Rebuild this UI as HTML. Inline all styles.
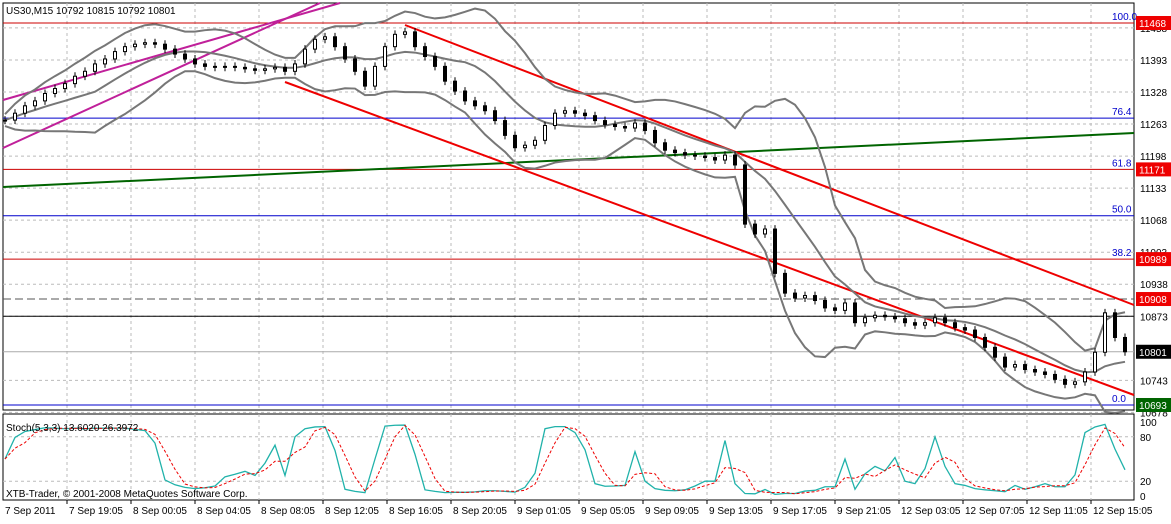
<!DOCTYPE html>
<html><head><meta charset="utf-8"><style>
body{margin:0;background:#fff;width:1171px;height:519px;overflow:hidden;font-family:"Liberation Sans",sans-serif}
svg text{font-family:"Liberation Sans",sans-serif;font-size:10px}
</style></head><body>
<svg id="c" width="1171" height="519" xmlns="http://www.w3.org/2000/svg"></svg>
<script>
const closes=[11271,11285,11300,11310,11325,11335,11345,11360,11370,11385,11395,11410,11420,11425,11428,11425,11415,11405,11395,11385,11380,11378,11380,11378,11375,11372,11375,11378,11370,11385,11415,11435,11440,11420,11395,11370,11340,11380,11420,11445,11450,11420,11400,11380,11350,11330,11310,11300,11290,11270,11240,11215,11220,11230,11260,11285,11290,11285,11280,11270,11262,11258,11255,11265,11250,11225,11210,11205,11200,11198,11195,11190,11200,11180,11060,11040,11050,10960,10920,10910,10915,10905,10890,10885,10900,10860,10870,10875,10872,10868,10860,10855,10860,10870,10860,10850,10845,10830,10810,10790,10770,10775,10765,10760,10755,10745,10735,10740,10760,10800,10880,10830,10801];
const priceTicks=[11458,11393,11328,11263,11198,11133,11068,11003,10938,10873,10743,10678];
const timeLabels=["7 Sep 2011","7 Sep 19:05","8 Sep 00:05","8 Sep 04:05","8 Sep 08:05","8 Sep 12:05","8 Sep 16:05","8 Sep 20:05","9 Sep 01:05","9 Sep 05:05","9 Sep 09:05","9 Sep 13:05","9 Sep 17:05","9 Sep 21:05","12 Sep 03:05","12 Sep 07:05","12 Sep 11:05","12 Sep 15:05"];
const fibLevels=[[11468,"100.0","#c00"],[11275,"76.4","#00c"],[11171,"61.8","#c00"],[11077,"50.0","#00c"],[10989,"38.2","#c00"],[10693,"0.0","#00c"]];
const S=document.getElementById('c'),NS="http://www.w3.org/2000/svg";
function el(t,a,p){const e=document.createElementNS(NS,t);for(const k in a)e.setAttribute(k,a[k]);(p||S).appendChild(e);return e;}
const L=3,R=1134,T=3,B=410,ST=414,SB=500;
const y=p=>23+(11468-p)*0.4929;
const x=i=>5+i*10;
const sy=v=>ST+8+(100-v)*(SB-ST-12)/100;
let f=el('rect',{x:L,y:T,width:R-L,height:B-T,fill:'none',stroke:'#000'});

f=el('rect',{x:L,y:ST,width:R-L,height:SB-ST,fill:'none',stroke:'#000'});

timeLabels.forEach((t,i)=>{const gx=3+64*i;
 if(i>0){el('line',{x1:gx,y1:T,x2:gx,y2:B,stroke:'#bbb','stroke-dasharray':'3,3'});el('line',{x1:gx,y1:ST,x2:gx,y2:SB,stroke:'#bbb','stroke-dasharray':'3,3'});el('line',{x1:gx,y1:SB,x2:gx,y2:SB+4,stroke:'#000'});}
 const tx=el('text',{x:gx+2,y:514});tx.textContent=t;
 });
priceTicks.forEach(p=>{el('line',{x1:L,y1:y(p),x2:R,y2:y(p),stroke:'#bbb','stroke-dasharray':'3,3'});
 const tx=el('text',{x:1140,y:y(p)+4});tx.textContent=p;
 });
[80,20].forEach(v=>el('line',{x1:L,y1:sy(v),x2:R,y2:sy(v),stroke:'#bbb','stroke-dasharray':'3,3'}));
[[100,"100"],[80,"80"],[20,"20"],[0,"0"]].forEach(a=>{const tx=el('text',{x:1140,y:sy(a[0])+4});tx.textContent=a[1];
 });
fibLevels.forEach(a=>{el('line',{x1:L,y1:y(a[0]),x2:R,y2:y(a[0]),stroke:a[2]});
 const tx=el('text',{x:1112,y:y(a[0])-3,fill:'#00c'});tx.textContent=a[1];
 });
el('line',{x1:L,y1:y(10908),x2:R,y2:y(10908),stroke:'#555','stroke-dasharray':'8,4'});
el('line',{x1:L,y1:y(10873),x2:R,y2:y(10873),stroke:'#000'});
el('line',{x1:L,y1:y(10801),x2:R,y2:y(10801),stroke:'#aaa'});
[[3,100,340,3,'#c0209a'],[3,148,320,3,'#c0209a'],[3,187,1134,133,'#006400'],[405,25,1134,305,'#e00'],[285,82,1134,395,'#e00']].forEach(a=>{
 const l=el('line',{x1:a[0],y1:a[1],x2:a[2],y2:a[3],stroke:a[4],'stroke-width':2});
 });
const n=10,mid=[],up=[],lo=[];
closes.forEach((c,i)=>{const s=closes.slice(Math.max(0,i-n+1),i+1);const m=s.reduce((a,b)=>a+b)/s.length;
 const sd=Math.sqrt(s.reduce((a,b)=>a+(b-m)*(b-m),0)/s.length)+6;mid.push(m);up.push(m+2*sd);lo.push(m-2*sd);});
[mid,up,lo].forEach(arr=>{const pl=el('polyline',{points:arr.map((v,i)=>x(i)+','+y(v)).join(' '),fill:'none',stroke:'#777','stroke-width':2});
 });
closes.forEach((c,i)=>{const o=i?closes[i-1]:c;const hi=Math.max(o,c)+8,lw=Math.min(o,c)-8;
 el('line',{x1:x(i),y1:y(hi),x2:x(i),y2:y(lw),stroke:'#000'});
 const r=el('rect',{x:x(i)-1.5,y:y(Math.max(o,c)),width:3,height:Math.max(1,Math.abs(y(o)-y(c))),fill:c>=o?'#fff':'#000',stroke:'#000'});
 });
const K=[],D=[];
closes.forEach((c,i)=>{const s=closes.slice(Math.max(0,i-4),i+1);const h=Math.max(...s)+5,l=Math.min(...s)-5;K.push(100*(c-l)/(h-l));});
K.forEach((k,i)=>{const s=K.slice(Math.max(0,i-2),i+1);D.push(s.reduce((a,b)=>a+b)/s.length);});
let pk=el('polyline',{points:K.map((v,i)=>x(i)+','+sy(v)).join(' '),fill:'none',stroke:'#20b2aa','stroke-width':1.3});

let pd=el('polyline',{points:D.map((v,i)=>x(i)+','+sy(v)).join(' '),fill:'none',stroke:'#e00','stroke-dasharray':'3,2'});

[[11468,'#e00'],[11171,'#e00'],[10989,'#e00'],[10908,'#e00'],[10801,'#000'],[10693,'#006400']].forEach(a=>{
 const g=el('g',{});
 el('rect',{x:1136,y:y(a[0])-7,width:35,height:14,fill:a[1]},g);
 const t=el('text',{x:1139,y:y(a[0])+4,fill:'#fff'},g);t.textContent=a[0];});
let t1=el('text',{x:6,y:14});t1.textContent='US30,M15  10792 10815 10792 10801';

let t2=el('text',{x:6,y:431});t2.textContent='Stoch(5,3,3) 13.6020 26.3972';

let t3=el('text',{x:6,y:497});t3.textContent='XTB-Trader, © 2001-2008 MetaQuotes Software Corp.';

</script>
</body></html>
